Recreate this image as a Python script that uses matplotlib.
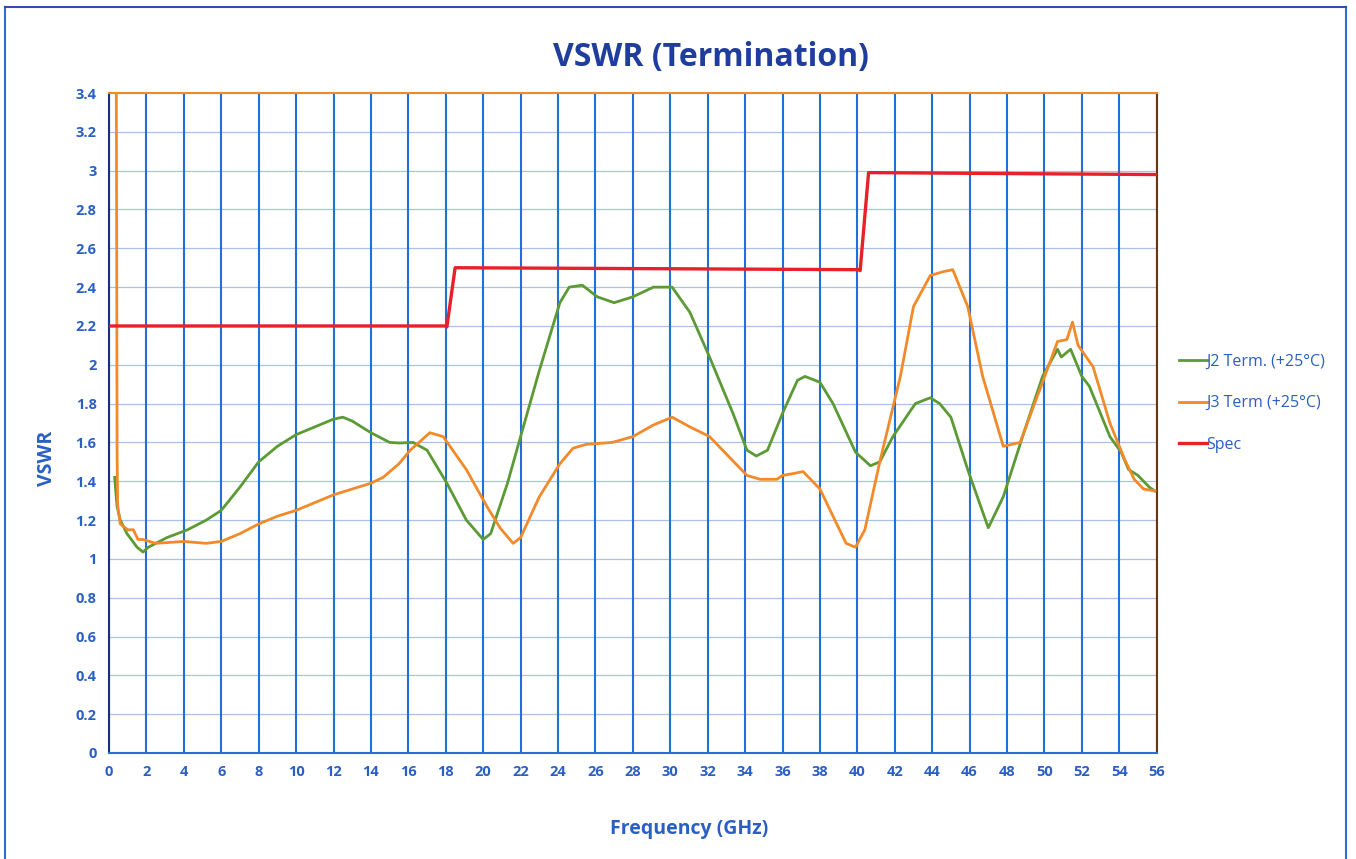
import numpy as np
import matplotlib as mpl
mpl.use("Agg")
import matplotlib.pyplot as plt
from matplotlib.lines import Line2D

plt.rcParams['font.family'] = ['Open Sans', 'DejaVu Sans']

# J2 Term. (+25C)
j2_freq = [0.3, 0.43, 0.6, 0.96, 1.5, 1.82, 2.1, 3.1, 4.2, 5.2, 6.0, 7.0, 8.0,
           9.0, 10.0, 11.0, 12.0, 12.5, 13.0, 14.0, 15.0, 15.55, 16.25, 17.0,
           18.06, 19.1, 20.0, 20.4, 21.3, 22.0, 23.0, 24.1, 24.6, 25.3, 26.1,
           27.0, 28.0, 29.1, 30.1, 31.05, 32.1, 33.35, 34.1, 34.6, 35.2, 36.0,
           36.8, 37.2, 38.0, 38.7, 39.9, 40.7, 41.2, 41.9, 43.1, 43.9, 44.4,
           45.0, 45.9, 47.0, 47.8, 48.9, 49.9, 50.7, 50.9, 51.4, 52.0, 52.4,
           53.5, 54.1, 54.5, 55.0, 55.6, 55.9]
j2_vswr = [1.42, 1.27, 1.20, 1.13, 1.06, 1.035, 1.06, 1.11, 1.15, 1.20, 1.25,
           1.37, 1.50, 1.58, 1.64, 1.68, 1.72, 1.73, 1.71, 1.65, 1.60, 1.597,
           1.60, 1.56, 1.39, 1.20, 1.10, 1.13, 1.39, 1.63, 1.97, 2.32, 2.40,
           2.41, 2.35, 2.32, 2.35, 2.40, 2.40, 2.27, 2.04, 1.75, 1.56, 1.53,
           1.56, 1.75, 1.92, 1.94, 1.91, 1.80, 1.55, 1.48, 1.50, 1.63, 1.80,
           1.83, 1.80, 1.73, 1.46, 1.16, 1.32, 1.65, 1.94, 2.08, 2.04, 2.08,
           1.94, 1.89, 1.63, 1.55, 1.46, 1.43, 1.37, 1.35]

# J3 Term (+25C)
j3_freq = [0.38, 0.41, 0.43, 0.46, 0.6, 1.0, 1.3, 1.55, 1.8, 2.5, 4.0, 5.2,
           6.0, 7.0, 8.0, 9.0, 10.0, 11.0, 12.0, 13.0, 14.0, 14.65, 15.5, 16.1,
           17.15, 17.86, 19.1, 20.2, 20.9, 21.6, 22.0, 23.0, 24.1, 24.8, 25.5,
           26.9, 28.0, 29.1, 30.1, 31.05, 32.1, 33.0, 34.1, 34.8, 35.7, 36.0,
           36.6, 37.1, 38.0, 38.7, 39.4, 39.9, 40.4, 41.2, 42.3, 43.0, 43.9,
           44.6, 45.1, 45.9, 46.7, 47.8, 48.7, 49.9, 50.7, 51.2, 51.5, 51.8,
           52.6, 53.5, 54.3, 54.8, 55.3, 55.9]
j3_vswr = [3.8, 2.6, 1.56, 1.28, 1.18, 1.15, 1.15, 1.10, 1.10, 1.08, 1.09,
           1.08, 1.09, 1.13, 1.18, 1.22, 1.25, 1.29, 1.33, 1.36, 1.39, 1.42,
           1.49, 1.56, 1.65, 1.63, 1.46, 1.27, 1.16, 1.08, 1.11, 1.32, 1.49,
           1.57, 1.59, 1.60, 1.63, 1.69, 1.73, 1.68, 1.63, 1.54, 1.43, 1.41,
           1.41, 1.43, 1.44, 1.45, 1.36, 1.22, 1.08, 1.06, 1.15, 1.50, 1.94,
           2.30, 2.46, 2.48, 2.49, 2.30, 1.94, 1.58, 1.60, 1.91, 2.12, 2.13,
           2.22, 2.10, 1.99, 1.70, 1.51, 1.41, 1.36, 1.35]

# Spec limit
spec_freq = [0.1, 18.0, 18.06, 18.5, 40.1, 40.15, 40.6, 56.0]
spec_vswr = [2.2, 2.2, 2.195, 2.50, 2.49, 2.485, 2.99, 2.98]

x_ticks = np.arange(0, 57, 2)
y_ticks = np.arange(0, 3.41, 0.2)
y_labels = ['0', '0.2', '0.4', '0.6', '0.8', '1', '1.2', '1.4', '1.6', '1.8',
            '2', '2.2', '2.4', '2.6', '2.8', '3', '3.2', '3.4']

txt_blue = '#2a5fc4'
fig = plt.figure(figsize=(13.56, 8.59), dpi=100)
ax = fig.add_axes([0.0804, 0.1234, 0.853 - 0.0804, 0.8917 - 0.1234])

for x in x_ticks:
    ax.axvline(x, color='#1f6fdc', lw=1.5, zorder=1)
for y in y_ticks:
    ax.axhline(y, color='#a9c1e6', lw=0.9, zorder=0)

ax.plot(j2_freq, j2_vswr, color='#5b9a34', lw=2.0, label='J2 Term. (+25°C)', zorder=3)
ax.plot(j3_freq, j3_vswr, color='#f28a2a', lw=2.0, label='J3 Term (+25°C)', zorder=3)
ax.plot(spec_freq, spec_vswr, color='#e8202a', lw=2.4, label='Spec', zorder=4)

ax.set_xlim(0, 56)
ax.set_ylim(0, 3.4)
ax.set_xticks(x_ticks)
ax.set_yticks(y_ticks)
ax.set_yticklabels(y_labels)
ax.tick_params(length=0, labelsize=10.5, labelcolor=txt_blue, pad=9)
for lab in ax.get_xticklabels() + ax.get_yticklabels():
    lab.set_fontweight('bold')

ax.spines['left'].set_color('#1a2f80')
ax.spines['bottom'].set_color('#2a6fd6')
ax.spines['top'].set_color('#f08a24')
ax.spines['right'].set_color('#6b3410')
for s in ax.spines.values():
    s.set_linewidth(1.5)

ax.set_xlabel('Frequency (GHz)', fontsize=14, fontweight='bold', color=txt_blue)
ax.set_ylabel('VSWR', fontsize=14, fontweight='bold', color=txt_blue)
ax.xaxis.set_label_coords(0.554, -0.1)
ax.yaxis.set_label_coords(-0.05, 0.447)
fig.text(0.524, 0.933, 'VSWR (Termination)', fontsize=23, fontweight='bold',
         color='#1f3d9c', ha='center', va='center')

leg = ax.legend(loc='center left', bbox_to_anchor=(1.008, 0.53), frameon=False,
                fontsize=11.5, handlelength=1.7, handletextpad=0.0, labelspacing=1.6)
for t in leg.get_texts():
    t.set_color(txt_blue)

# page frame around the chart
fig.add_artist(Line2D([5 / 1356, 5 / 1356], [0, 1 - 7 / 859], transform=fig.transFigure, color='#2a6fd6', lw=1.5))
fig.add_artist(Line2D([1346 / 1356, 1346 / 1356], [0, 1 - 7 / 859], transform=fig.transFigure, color='#2a6fd6', lw=1.5))
fig.add_artist(Line2D([5 / 1356, 1346 / 1356], [1 - 7 / 859, 1 - 7 / 859], transform=fig.transFigure, color='#2a4fb0', lw=1.5))

fig.savefig('out.png', dpi=100)
